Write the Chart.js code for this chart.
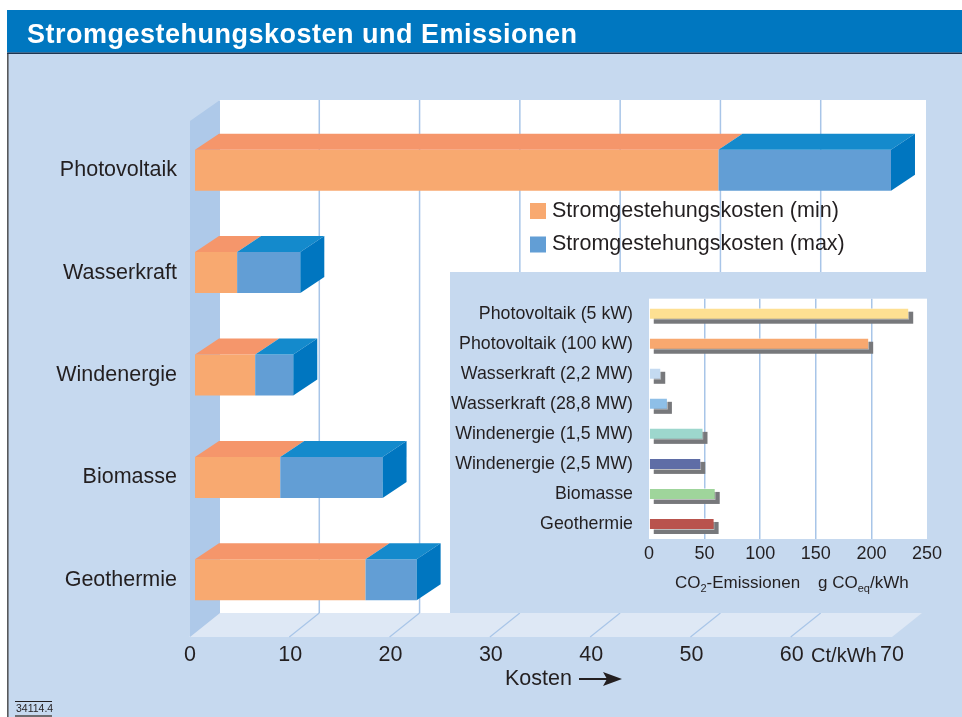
<!DOCTYPE html>
<html>
<head>
<meta charset="utf-8">
<script src="https://cdn.jsdelivr.net/npm/chart.js@4.4.1/dist/chart.umd.min.js"></script>
<style>
html,body{margin:0;padding:0;background:#ffffff;}
#wrap{position:relative;width:962px;height:717px;overflow:hidden;}
#main{position:absolute;left:0;top:0;}
#inset{position:absolute;left:450px;top:272px;}
</style>
</head>
<body>
<div id="wrap">
<canvas id="main" width="962" height="717"></canvas>
<canvas id="inset" width="512" height="341"></canvas>
</div>
<script>
// ---------- data ----------
const chartTitle = 'Stromgestehungskosten und Emissionen';
const categories = ['Photovoltaik', 'Wasserkraft', 'Windenergie', 'Biomasse', 'Geothermie'];
const costMin = [52.2, 4.2, 6.0, 8.5, 17.0];
const costMax = [69.4, 10.5, 9.8, 18.7, 22.1];
const seriesNames = ['Stromgestehungskosten (min)', 'Stromgestehungskosten (max)'];
const costTicks = [0, 10, 20, 30, 40, 50, 60, 70];
const costUnit = 'Ct/kWh';
const costAxisTitle = 'Kosten';

const co2Labels = ['Photovoltaik (5 kW)', 'Photovoltaik (100 kW)', 'Wasserkraft (2,2 MW)', 'Wasserkraft (28,8 MW)',
  'Windenergie (1,5 MW)', 'Windenergie (2,5 MW)', 'Biomasse', 'Geothermie'];
const co2Values = [234, 198, 11, 17, 49, 47, 60, 59];
const co2Ticks = [0, 50, 100, 150, 200, 250];
const footnote = '34114.4';

// ---------- styles ----------
const FONT = '"Liberation Sans", Arial, sans-serif';
const TEXT = '#231f20';
const BODY = '#c6d9ef';
const TITLE_BG = '#0077c0';
const LWALL = '#aec9e9';
const FLOOR = '#dee8f5';
const GRID = '#a8c5e8';
const ORANGE = '#f8a970', ORANGE_TOP = '#f5966b';
const BLUE = '#629ed5', BLUE_TOP = '#148acc', BLUE_SIDE = '#0076c0';
const SHADOW = '#77787b';
const co2Colors = ['#fee092', '#f8a86f', '#c4daf1', '#8ebfe7', '#9dd7cd', '#5f6da6', '#9fd59b', '#b9534d'];
const DX = 24, DY = 16;

function poly(ctx, pts, fill) {
  ctx.beginPath();
  ctx.moveTo(pts[0][0], pts[0][1]);
  for (let k = 1; k < pts.length; k++) ctx.lineTo(pts[k][0], pts[k][1]);
  ctx.closePath();
  ctx.fillStyle = fill;
  ctx.fill();
}
function seg(ctx, x1, y1, x2, y2, color, w) {
  ctx.beginPath();
  ctx.moveTo(x1, y1); ctx.lineTo(x2, y2);
  ctx.strokeStyle = color; ctx.lineWidth = w; ctx.stroke();
}

// ---------- main chart scene ----------
const mainScene = {
  id: 'mainScene',
  beforeDraw(chart) {
    const ctx = chart.ctx, ca = chart.chartArea, xs = chart.scales.x;
    const W = chart.width, H = chart.height;
    ctx.save();
    ctx.fillStyle = '#ffffff'; ctx.fillRect(0, 0, W, H);
    ctx.fillStyle = BODY; ctx.fillRect(8, 10, W - 8, H - 10);
    ctx.fillStyle = '#58595b'; ctx.fillRect(7, 53, 1.6, H - 53);
    ctx.fillStyle = TITLE_BG; ctx.fillRect(7, 10, W - 7, 42.5);
    ctx.fillStyle = '#1e3550'; ctx.fillRect(7, 52.5, W - 7, 1.5);
    ctx.fillStyle = '#ffffff';
    ctx.font = 'bold 27px ' + FONT;
    ctx.textAlign = 'left'; ctx.textBaseline = 'alphabetic';
    if ('letterSpacing' in ctx) ctx.letterSpacing = '0.5px';
    ctx.fillText(chartTitle, 27, 43);
    if ('letterSpacing' in ctx) ctx.letterSpacing = '0px';

    const x0 = xs.getPixelForValue(costTicks[0]);
    const xE = xs.getPixelForValue(costTicks[costTicks.length - 1]);
    const wallTop = ca.top - 19, wallBot = ca.bottom - 18, floorFront = wallBot + 24;
    // back wall
    ctx.fillStyle = '#ffffff';
    ctx.fillRect(x0 + DX, wallTop, (xE + DX + 5) - (x0 + DX), wallBot - wallTop);
    // floor
    poly(ctx, [[x0 + DX, wallBot], [xE + DX + 1, wallBot], [xE - 5, floorFront], [x0 - 6, floorFront]], FLOOR);
    // grid on wall and floor
    costTicks.forEach((v, k) => {
      if (k === 0 || k === costTicks.length - 1) return;
      const px = xs.getPixelForValue(v);
      seg(ctx, px + DX, wallTop, px + DX, wallBot, GRID, 1.5);
      seg(ctx, px + DX, wallBot, px - 6, floorFront, GRID, 1.2);
    });
    // left wall
    poly(ctx, [[x0 - 5, wallTop + 21], [x0 + DX + 1, wallTop], [x0 + DX + 1, wallBot], [x0 - 5, floorFront]], LWALL);
    ctx.restore();
  },
  afterDatasetsDraw(chart) {
    const ctx = chart.ctx;
    const m0 = chart.getDatasetMeta(0), m1 = chart.getDatasetMeta(1);
    ctx.save();
    m0.data.forEach((a, i) => {
      const b = m1.data[i];
      const top = a.y - a.height / 2, bot = a.y + a.height / 2;
      const aL = Math.min(a.base, a.x), aR = Math.max(a.base, a.x);
      const bL = Math.min(b.base, b.x), bR = Math.max(b.base, b.x);
      poly(ctx, [[aL, top], [aL + DX, top - DY], [aR + DX, top - DY], [aR, top]], ORANGE_TOP);
      poly(ctx, [[bL, top], [bL + DX, top - DY], [bR + DX, top - DY], [bR, top]], BLUE_TOP);
      poly(ctx, [[bR, top], [bR + DX, top - DY], [bR + DX, bot - DY], [bR, bot]], BLUE_SIDE);
    });
    ctx.restore();
  },
  afterDraw(chart) {
    const ctx = chart.ctx, xs = chart.scales.x;
    ctx.save();
    // legend
    ctx.font = '21.5px ' + FONT;
    ctx.textAlign = 'left'; ctx.textBaseline = 'middle';
    chart.data.datasets.forEach((ds, k) => {
      ctx.fillStyle = ds.backgroundColor;
      ctx.fillRect(530, 203 + k * 33.5, 16, 16);
      ctx.fillStyle = TEXT;
      ctx.fillText(ds.label, 552, 211 + k * 33);
    });
    // unit between last two ticks
    const n = costTicks.length;
    const ux = (xs.getPixelForValue(costTicks[n - 2]) + xs.getPixelForValue(costTicks[n - 1])) / 2 - 3;
    ctx.font = '20px ' + FONT;
    ctx.textAlign = 'center'; ctx.textBaseline = 'alphabetic';
    ctx.fillText(costUnit, ux, 662);
    // axis title with arrow
    ctx.font = '21.5px ' + FONT;
    ctx.textAlign = 'left';
    ctx.fillText(costAxisTitle, 505, 685);
    seg(ctx, 579, 679, 610, 679, TEXT, 2);
    poly(ctx, [[622, 679], [603, 672], [607, 679], [603, 686]], TEXT);
    // footnote
    ctx.font = '10.5px ' + FONT;
    ctx.fillStyle = TEXT;
    ctx.fillText(footnote, 16, 712);
    ctx.fillStyle = '#231f20'; ctx.fillRect(15, 701, 37, 1);
    ctx.fillStyle = '#6d6e71'; ctx.fillRect(15, 715, 37, 2);
    ctx.restore();
  }
};

new Chart(document.getElementById('main'), {
  type: 'bar',
  data: {
    labels: categories,
    datasets: [
      { label: seriesNames[0], data: costMin, backgroundColor: ORANGE, grouped: false, order: 2 },
      { label: seriesNames[1], data: costMin.map((v, i) => [v, costMax[i]]), backgroundColor: BLUE, grouped: false, order: 1 }
    ]
  },
  options: {
    indexAxis: 'y',
    responsive: false,
    animation: false,
    devicePixelRatio: 1,
    events: [],
    layout: { padding: { top: 119, right: 65, left: 0, bottom: 0 } },
    datasets: { bar: { barPercentage: 0.4, categoryPercentage: 1, borderWidth: 0 } },
    plugins: { legend: { display: false }, tooltip: { enabled: false }, title: { display: false } },
    scales: {
      x: {
        min: costTicks[0], max: costTicks[costTicks.length - 1],
        afterBuildTicks: s => { s.ticks = costTicks.map(v => ({ value: v })); },
        afterFit: s => { s.height = 86; },
        grid: { display: false, drawTicks: false },
        border: { display: false },
        ticks: { font: { family: FONT, size: 21.5 }, color: TEXT, padding: 11, labelOffset: -5, maxRotation: 0, autoSkip: false }
      },
      y: {
        afterFit: s => { s.width = 195; },
        grid: { display: false, drawTicks: false },
        border: { display: false },
        ticks: { font: { family: FONT, size: 21.5 }, color: TEXT, padding: 18 }
      }
    }
  },
  plugins: [mainScene]
});

// ---------- inset chart ----------
const insetScene = {
  id: 'insetScene',
  beforeDraw(chart) {
    const ctx = chart.ctx, ca = chart.chartArea;
    ctx.save();
    ctx.fillStyle = BODY; ctx.fillRect(0, 0, chart.width, chart.height);
    ctx.fillStyle = '#ffffff'; ctx.fillRect(ca.left, ca.top, ca.right - ca.left, ca.bottom - ca.top);
    ctx.restore();
  },
  beforeDatasetsDraw(chart) {
    const ctx = chart.ctx;
    ctx.save();
    ctx.fillStyle = SHADOW;
    chart.getDatasetMeta(0).data.forEach(el => {
      const l = Math.min(el.base, el.x), r = Math.max(el.base, el.x);
      ctx.fillRect(l + 4, el.y - el.height / 2 + 4, r - l, el.height);
    });
    ctx.restore();
  },
  afterDraw(chart) {
    const ctx = chart.ctx, ca = chart.chartArea;
    ctx.save();
    ctx.fillStyle = TEXT; ctx.textAlign = 'left'; ctx.textBaseline = 'alphabetic';
    const base = ca.bottom + 49;
    function run(x, parts) {
      parts.forEach(p => {
        ctx.font = p[1] + 'px ' + FONT;
        ctx.fillText(p[0], x, base + p[2]);
        x += ctx.measureText(p[0]).width;
      });
    }
    run(ca.left + 26, [['CO', 17, 0], ['2', 11, 4], ['-Emissionen', 17, 0]]);
    run(ca.left + 169, [['g CO', 17, 0], ['eq', 11, 4], ['/kWh', 17, 0]]);
    ctx.restore();
  }
};

new Chart(document.getElementById('inset'), {
  type: 'bar',
  data: {
    labels: co2Labels,
    datasets: [{
      label: 'CO2-Emissionen',
      data: co2Values,
      backgroundColor: co2Colors,
      borderColor: 'rgba(255,255,255,0.5)',
      borderWidth: 1,
      barPercentage: 0.4,
      categoryPercentage: 1
    }]
  },
  options: {
    indexAxis: 'y',
    responsive: false,
    animation: false,
    devicePixelRatio: 1,
    events: [],
    layout: { padding: { top: 25, right: 35, left: 0, bottom: 0 } },
    plugins: { legend: { display: false }, tooltip: { enabled: false } },
    scales: {
      x: {
        min: co2Ticks[0], max: co2Ticks[co2Ticks.length - 1],
        afterBuildTicks: s => { s.ticks = co2Ticks.map(v => ({ value: v })); },
        afterFit: s => { s.height = 74; },
        grid: {
          drawTicks: false, lineWidth: 1.5,
          color: c => (c.index === 0 || c.index === co2Ticks.length - 1) ? 'rgba(0,0,0,0)' : GRID
        },
        border: { display: false },
        ticks: { font: { family: FONT, size: 18 }, color: TEXT, padding: 4, maxRotation: 0, autoSkip: false }
      },
      y: {
        afterFit: s => { s.width = 199; },
        grid: { display: false, drawTicks: false },
        border: { display: false },
        ticks: { font: { family: FONT, size: 17.8 }, color: TEXT, padding: 16, autoSkip: false }
      }
    }
  },
  plugins: [insetScene]
});
</script>
</body>
</html>
